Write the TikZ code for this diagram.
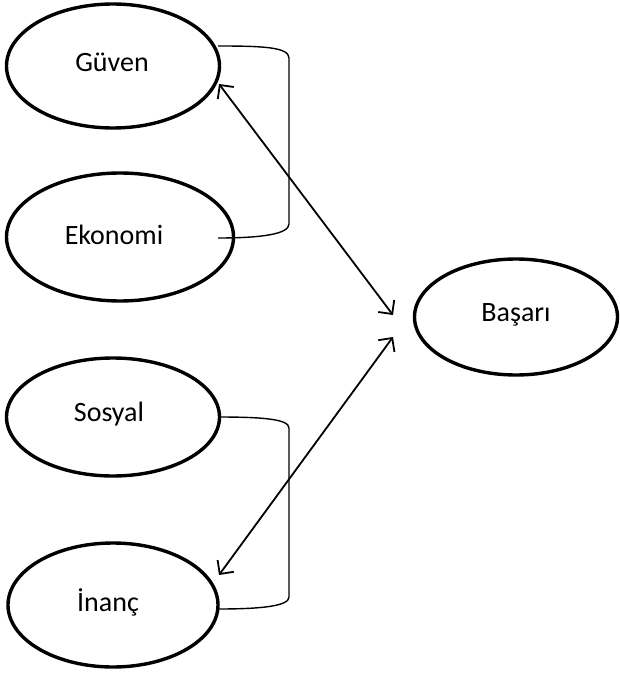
\documentclass[tikz,border=0pt]{standalone}
\usepackage{fontspec}
\setmainfont{Carlito}
\usetikzlibrary{shapes.geometric,arrows.meta}
\begin{document}
\begin{tikzpicture}[x=1pt,y=-1pt,
  oval/.style={ellipse,draw,line width=3.4pt,inner sep=0pt},
  lbl/.style={font=\fontsize{28}{33}\selectfont},
  link/.style={line width=1.8pt,{Straight Barb[length=10pt,width=20pt,line width=1.8pt]}-{Straight Barb[length=10pt,width=20pt,line width=1.8pt]}},
  brace/.style={line width=1.4pt}]
\useasboundingbox (0,0) rectangle (619,674);
\node[oval,minimum width=213pt,minimum height=124pt] (g) at (113,66) {};
\node[lbl] (gt) at (112,62) {Güven};
\node[oval,minimum width=227pt,minimum height=128pt] (e) at (120,237) {};
\node[lbl] (et) at (114,235) {Ekonomi};
\node[oval,minimum width=213pt,minimum height=118pt] (s) at (113,417) {};
\node[lbl] (st) at (109,414) {Sosyal};
\node[oval,minimum width=210pt,minimum height=124pt] (i) at (113,605) {};
\node[lbl] (it) at (108,602) {İnanç};
\node[oval,minimum width=203pt,minimum height=116pt] (b) at (516,317) {};
\node[lbl] (bt) at (516,315) {Başarı};
\coordinate (gb) at (218,46);
\coordinate (eb) at (218,238);
\coordinate (sb) at (218,417);
\coordinate (ib) at (218,609);
\coordinate (ga) at (219,84);
\coordinate (ba1) at (393,315);
\coordinate (ba2) at (393,337);
\coordinate (ia) at (219,575);
\draw[brace] (gb) .. controls (262,46) and (289,47) .. (289,58) -- (289,224) .. controls (289,234) and (262,238) .. (eb);
\draw[brace] (sb) .. controls (262,417) and (289,419) .. (289,428) -- (289,597) .. controls (289,606) and (262,609) .. (ib);
\draw[link] (ga) -- (ba1);
\draw[link] (ba2) -- (ia);
\end{tikzpicture}
\end{document}
